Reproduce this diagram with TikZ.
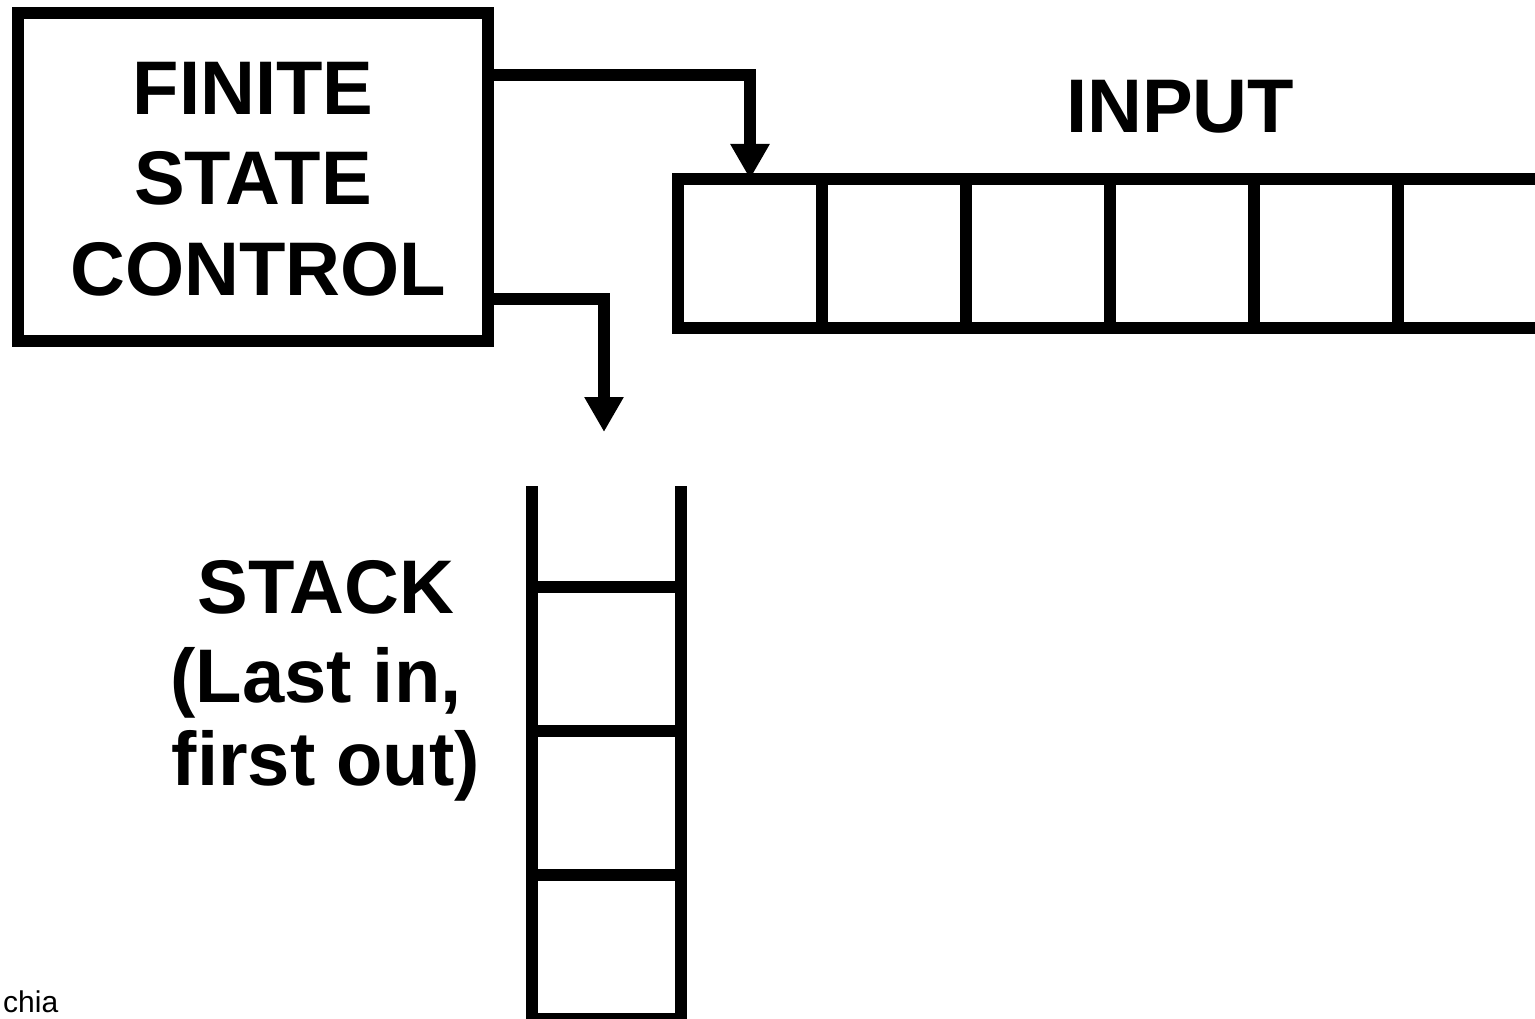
\documentclass[tikz,border=0pt]{standalone}
\usepackage{fontspec}
\setmainfont{Liberation Sans}
\usetikzlibrary{arrows.meta}
\begin{document}
\begin{tikzpicture}[x=1pt,y=-1pt,
  box/.style={draw, line width=12pt, inner sep=0pt, outer sep=0pt},
  cell/.style={box, minimum width=144pt, minimum height=149pt},
  scell/.style={box, minimum width=149pt, minimum height=144pt},
  wall/.style={line width=12pt},
  big/.style={font=\fontsize{76}{90}\selectfont\bfseries, inner sep=0pt, anchor=base},
  small/.style={font=\fontsize{30}{34}\selectfont, inner sep=0pt, anchor=base west},
  conn/.style={line width=12pt, -{Triangle[width=37pt,length=35pt]}}
]
\useasboundingbox (0,0) rectangle (1535,1019);
\clip (0,0) rectangle (1535,1019);

% finite state control
\node[box, minimum width=470pt, minimum height=328pt] (fsc) at (253,177) {};
\node[big] (fsc1) at (253,115) {FINITE};
\node[big] (fsc2) at (253,205) {STATE};
\node[big] (fsc3) at (258,296) {CONTROL};

% input tape
\foreach \i in {1,...,6}{
  \node[cell] (c\i) at ({678+144*(\i-1)+72},253.5) {};
}
\node[big] (input) at (1180,133) {INPUT};

% stack
\node[scell] (s1) at (606.5,659) {};
\node[scell] (s2) at (606.5,803) {};
\node[scell] (s3) at (606.5,947) {};
\draw[wall] (s1.north west) -- ++(0,-101);
\draw[wall] (s1.north east) -- ++(0,-101);
\node[big] (st1) at (326,613) {STACK};
\node[big] (st2) at (316,702) {(Last in,};
\node[big] (st3) at (326,785) {first out)};

% connectors
\coordinate (stacktip) at (604,432);
\draw[conn] (fsc.east |- 0,75) -| (c1.north);
\draw[conn] (fsc.east |- 0,299) -| (stacktip);

% footer
\node[small] (foot) at (3,1012) {chia};
\end{tikzpicture}
\end{document}
